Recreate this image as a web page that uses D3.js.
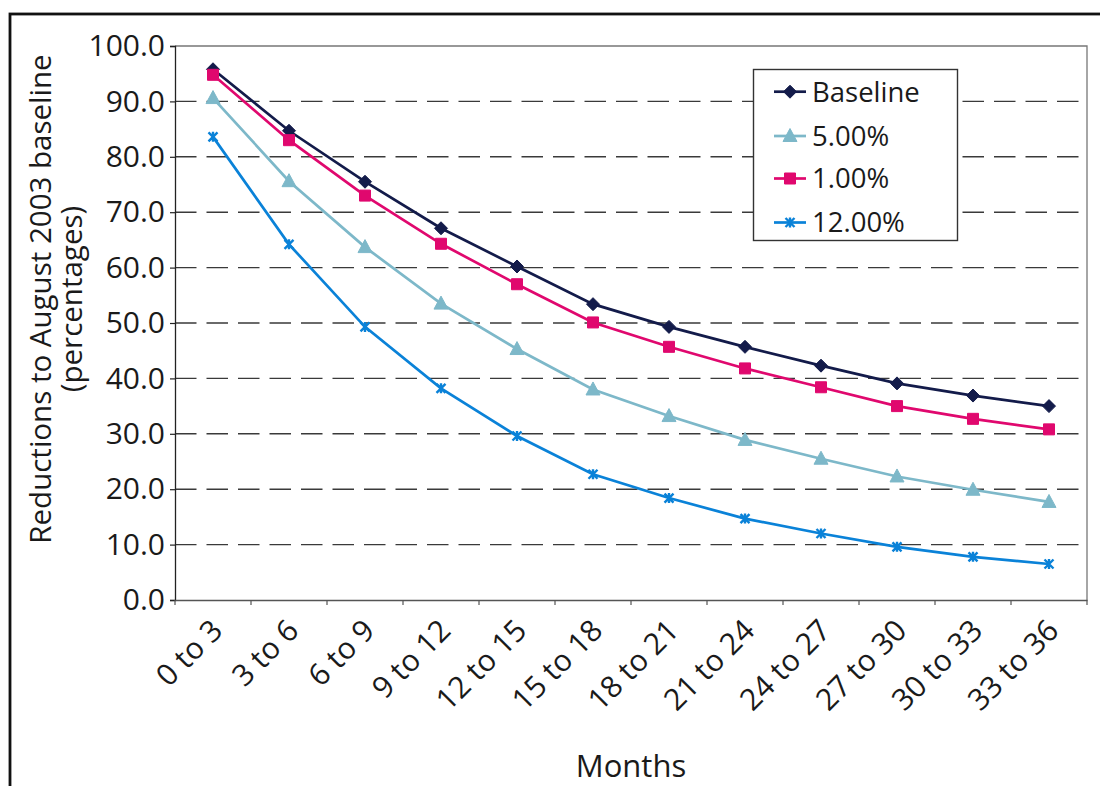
<!DOCTYPE html>
<html>
<head>
<meta charset="utf-8">
<script src="https://cdn.jsdelivr.net/npm/d3@7/dist/d3.min.js"></script>
<style>
html,body{margin:0;padding:0;background:#fff;}
svg{display:block;}
text{font-family:"Open Sans","Noto Sans",sans-serif;fill:#1a1a1a;}
</style>
</head>
<body>
<svg id="chart" width="1100" height="786"></svg>
<script>
const categories = ["0 to 3","3 to 6","6 to 9","9 to 12","12 to 15","15 to 18","18 to 21","21 to 24","24 to 27","27 to 30","30 to 33","33 to 36"];
const baselineValues = [95.8, 84.7, 75.5, 67.1, 60.2, 53.4, 49.3, 45.7, 42.3, 39.1, 36.9, 35.0];
const pct5Values = [90.6, 75.6, 63.7, 53.5, 45.3, 38.0, 33.2, 28.9, 25.5, 22.3, 19.9, 17.7];
const pct1Values = [94.8, 83.0, 73.0, 64.3, 57.0, 50.1, 45.7, 41.8, 38.4, 35.0, 32.7, 30.8];
const pct12Values = [83.6, 64.2, 49.3, 38.2, 29.6, 22.7, 18.4, 14.7, 12.0, 9.6, 7.8, 6.5];
const seriesNames = ["Baseline","5.00%","1.00%","12.00%"];
const yTicks = [0,10,20,30,40,50,60,70,80,90,100];
const yTitleLines = ["Reductions to August 2003 baseline","(percentages)"];
const xTitle = "Months";

const series = [
  {name: seriesNames[0], values: baselineValues, color: "#131b4a", marker: "diamond"},
  {name: seriesNames[1], values: pct5Values, color: "#7db8c9", marker: "triangle"},
  {name: seriesNames[2], values: pct1Values, color: "#e0086e", marker: "square"},
  {name: seriesNames[3], values: pct12Values, color: "#0a82d8", marker: "star"}
];

const svg = d3.select("#chart");
const L = 175, R = 1087, T = 46, B = 600;

// outer frame
svg.append("rect").attr("x",10).attr("y",14).attr("width",1200).attr("height",900)
  .attr("fill","none").attr("stroke","#111").attr("stroke-width",2.8);

const x = d3.scaleBand().domain(categories).range([L,R]).padding(0);
const y = d3.scaleLinear().domain([0,100]).range([B,T]);

// gridlines
svg.append("g").selectAll("line").data(yTicks.filter(d=>d>0 && d<100)).join("line")
  .attr("x1",L).attr("x2",R).attr("y1",d=>y(d)).attr("y2",d=>y(d))
  .attr("stroke","#3a3a3a").attr("stroke-width",1.4).attr("stroke-dasharray","21.5,10");

// plot border top/right
svg.append("path").attr("d",`M${L},${T}H${R}V${B}`).attr("fill","none")
  .attr("stroke","#777").attr("stroke-width",1.3);

// y axis
const yAxis = d3.axisLeft(y).tickValues(yTicks).tickFormat(d3.format(".1f")).tickSize(5).tickPadding(5);
const gy = svg.append("g").attr("transform",`translate(${L},0)`).call(yAxis);
gy.select(".domain").attr("stroke","#222").attr("stroke-width",1.3);
gy.selectAll(".tick line").attr("stroke","#222").attr("stroke-width",1.2);
gy.selectAll(".tick text").style("font-family",'"Open Sans","Noto Sans",sans-serif')
  .style("font-size","30px").attr("fill","#1a1a1a");

// x axis
const xAxis = d3.axisBottom(x).tickSize(0).tickFormat("");
const gx = svg.append("g").attr("transform",`translate(0,${B})`).call(xAxis);
gx.select(".domain").attr("stroke","#555").attr("stroke-width",1.6);
// tick marks at band boundaries
const bounds = categories.map(c=>x(c)).concat([R]);
svg.append("g").selectAll("line").data(bounds).join("line")
  .attr("x1",d=>d).attr("x2",d=>d).attr("y1",B).attr("y2",B+5)
  .attr("stroke","#555").attr("stroke-width",1.2);
// rotated labels
svg.append("g").selectAll("text").data(categories).join("text")
  .attr("transform",d=>`translate(${x(d)+x.bandwidth()/2+4},${B+25}) rotate(-45)`)
  .attr("text-anchor","end").attr("dy","0.35em")
  .style("font-size","30px").text(d=>d);

// titles
svg.append("text").attr("x",(L+R)/2).attr("y",777).attr("text-anchor","middle")
  .style("font-size","31px").text(xTitle);
const yt = svg.append("text").attr("transform","translate(0,299) rotate(-90)").attr("text-anchor","middle")
  .style("font-size","29.5px");
yt.append("tspan").attr("x",0).attr("y",51).text(yTitleLines[0]);
yt.append("tspan").attr("x",0).attr("y",82).text(yTitleLines[1]);

// markers
function markerPath(type){
  switch(type){
    case "diamond": return "M0,-6.5L6.5,0L0,6.5L-6.5,0Z";
    case "triangle": return "M0,-7.5L7,5.5L-7,5.5Z";
    case "square": return "M-5.5,-5.5H5.5V5.5H-5.5Z";
    case "star": return "M-4.5,-4.5L4.5,4.5M-4.5,4.5L4.5,-4.5M0,-5V5";
  }
}
const line = d3.line().x((d,i)=>x(categories[i])+x.bandwidth()/2).y(d=>y(d));
const gs = svg.append("g").selectAll("g").data(series).join("g");
gs.append("path").attr("d",d=>line(d.values)).attr("fill","none")
  .attr("stroke",d=>d.color).attr("stroke-width",2.7);
gs.each(function(s){
  d3.select(this).selectAll("path.m").data(s.values).join("path").attr("class","m")
    .attr("transform",(d,i)=>`translate(${x(categories[i])+x.bandwidth()/2},${y(d)})`)
    .attr("d",markerPath(s.marker))
    .attr("fill",s.marker==="star"?"none":s.color)
    .attr("stroke",s.color).attr("stroke-width",s.marker==="star"?2.4:1);
});

// legend
const lg = svg.append("g");
lg.append("rect").attr("x",753.5).attr("y",69.5).attr("width",204).attr("height",171)
  .attr("fill","#fff").attr("stroke","#333").attr("stroke-width",1.4);
const rowsY = [91.7,136,178.5,222.5];
series.forEach((s,i)=>{
  const g = lg.append("g");
  g.append("line").attr("x1",774).attr("x2",806).attr("y1",rowsY[i]).attr("y2",rowsY[i])
    .attr("stroke",s.color).attr("stroke-width",2.7);
  g.append("path").attr("transform",`translate(790,${rowsY[i]})`).attr("d",markerPath(s.marker))
    .attr("fill",s.marker==="star"?"none":s.color).attr("stroke",s.color)
    .attr("stroke-width",s.marker==="star"?2.4:1);
  g.append("text").attr("x",812).attr("y",rowsY[i]).attr("dy","0.36em")
    .style("font-size","27.5px").text(s.name);
});
</script>
</body>
</html>
